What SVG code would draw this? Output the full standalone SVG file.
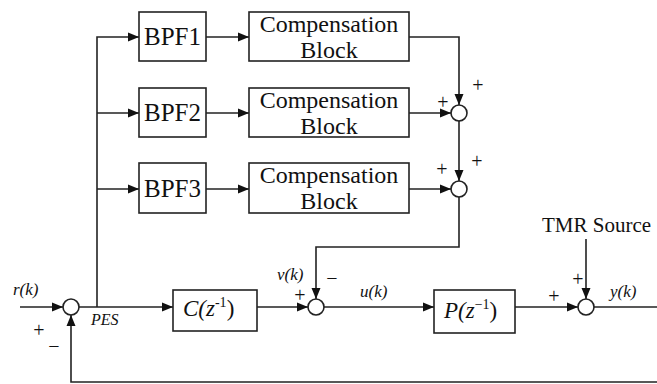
<svg xmlns="http://www.w3.org/2000/svg" width="657" height="384" viewBox="0 0 657 384" font-family="Liberation Serif, serif">
<defs>
<marker id="ar" markerUnits="userSpaceOnUse" markerWidth="12" markerHeight="10" refX="11" refY="5" orient="auto">
<path d="M0,0.5 L11,5 L0,9.5 Z" fill="#111"/>
</marker>
</defs>
<rect width="657" height="384" fill="#fff"/>
<g id="connectors" fill="none" stroke="#222" stroke-width="1.6">
<path d="M20,307 H63" marker-end="url(#ar)"/>
<path d="M79,307 H173" marker-end="url(#ar)"/>
<path d="M97,307 V37 H139" marker-end="url(#ar)"/>
<path d="M97,113 H139" marker-end="url(#ar)"/>
<path d="M97,189 H139" marker-end="url(#ar)"/>
<path d="M206,37 H249" marker-end="url(#ar)"/>
<path d="M206,113 H249" marker-end="url(#ar)"/>
<path d="M206,189 H249" marker-end="url(#ar)"/>
<path d="M409,37 H459 V105" marker-end="url(#ar)"/>
<path d="M409,113 H451" marker-end="url(#ar)"/>
<path d="M459,121 V181" marker-end="url(#ar)"/>
<path d="M409,189 H451" marker-end="url(#ar)"/>
<path d="M459,197 V247 H316 V299" marker-end="url(#ar)"/>
<path d="M257,307 H308" marker-end="url(#ar)"/>
<path d="M324,307 H434" marker-end="url(#ar)"/>
<path d="M515,307 H578" marker-end="url(#ar)"/>
<path d="M586,239 V299" marker-end="url(#ar)"/>
<path d="M594,307 H657"/>
<path d="M657,382 H71 V315" marker-end="url(#ar)"/>
</g>
<g id="shapes" fill="#fff" stroke="#222" stroke-width="1.6">
<rect id="bpf1-box" x="139" y="12" width="67" height="49"/>
<rect id="bpf2-box" x="139" y="88" width="67" height="49"/>
<rect id="bpf3-box" x="139" y="163" width="67" height="50"/>
<rect id="comp1-box" x="249" y="12" width="160" height="49"/>
<rect id="comp2-box" x="249" y="88" width="160" height="49"/>
<rect id="comp3-box" x="249" y="163" width="160" height="50"/>
<rect id="C-box" x="173" y="290" width="84" height="41"/>
<rect id="P-box" x="434" y="290" width="81" height="43"/>
<circle id="sumA" cx="459" cy="113" r="8"/>
<circle id="sumB" cx="459" cy="189" r="8"/>
<circle id="sum1" cx="71" cy="307" r="8"/>
<circle id="sum2" cx="316" cy="307" r="8"/>
<circle id="sum3" cx="586" cy="307" r="8"/>
</g>
<g id="texts" fill="#111">
<text font-family="Liberation Serif" x="172.5" y="45" font-size="25" text-anchor="middle">BPF1</text>
<text font-family="Liberation Serif" x="172.5" y="121" font-size="25" text-anchor="middle">BPF2</text>
<text font-family="Liberation Serif" x="172.5" y="197" font-size="25" text-anchor="middle">BPF3</text>
<text font-family="Liberation Serif" x="329" y="32" font-size="24" text-anchor="middle">Compensation</text>
<text font-family="Liberation Serif" x="329" y="58" font-size="24" text-anchor="middle">Block</text>
<text font-family="Liberation Serif" x="329" y="108" font-size="24" text-anchor="middle">Compensation</text>
<text font-family="Liberation Serif" x="329" y="134" font-size="24" text-anchor="middle">Block</text>
<text font-family="Liberation Serif" x="329" y="183" font-size="24" text-anchor="middle">Compensation</text>
<text font-family="Liberation Serif" x="329" y="209" font-size="24" text-anchor="middle">Block</text>
<text font-family="Liberation Serif" x="478" y="92" font-size="20" text-anchor="middle">+</text>
<text font-family="Liberation Serif" x="443" y="109" font-size="20" text-anchor="middle">+</text>
<text font-family="Liberation Serif" x="477" y="168" font-size="20" text-anchor="middle">+</text>
<text font-family="Liberation Serif" x="442" y="176" font-size="20" text-anchor="middle">+</text>
<text font-family="Liberation Serif" x="39" y="337" font-size="20" text-anchor="middle">+</text>
<text font-family="Liberation Serif" x="54" y="353" font-size="20" text-anchor="middle">−</text>
<text font-family="Liberation Serif" x="300" y="302" font-size="20" text-anchor="middle">+</text>
<text font-family="Liberation Serif" x="332" y="285" font-size="20" text-anchor="middle">−</text>
<text font-family="Liberation Serif" x="554" y="303" font-size="20" text-anchor="middle">+</text>
<text font-family="Liberation Serif" x="578" y="286" font-size="20" text-anchor="middle">+</text>
<text font-family="Liberation Serif" x="183" y="316" font-size="23" font-style="italic">C(z<tspan font-size="14" font-style="normal" dy="-9">-1</tspan><tspan font-style="normal" dy="9">)</tspan></text>
<text font-family="Liberation Serif" x="444" y="318" font-size="23" font-style="italic">P(z<tspan font-size="14" font-style="normal" dy="-9">−1</tspan><tspan font-style="normal" dy="9">)</tspan></text>
<text font-family="Liberation Serif" x="13" y="295" font-size="17" font-style="italic">r(k)</text>
<text font-family="Liberation Serif" x="91" y="325" font-size="16" font-style="italic">PES</text>
<text font-family="Liberation Serif" x="277" y="280" font-size="17" font-style="italic">v(k)</text>
<text font-family="Liberation Serif" x="360" y="297" font-size="17" font-style="italic">u(k)</text>
<text font-family="Liberation Serif" x="610" y="297" font-size="17" font-style="italic">y(k)</text>
<text font-family="Liberation Serif" x="542" y="232" font-size="21">TMR Source</text>
</g>
</svg>
